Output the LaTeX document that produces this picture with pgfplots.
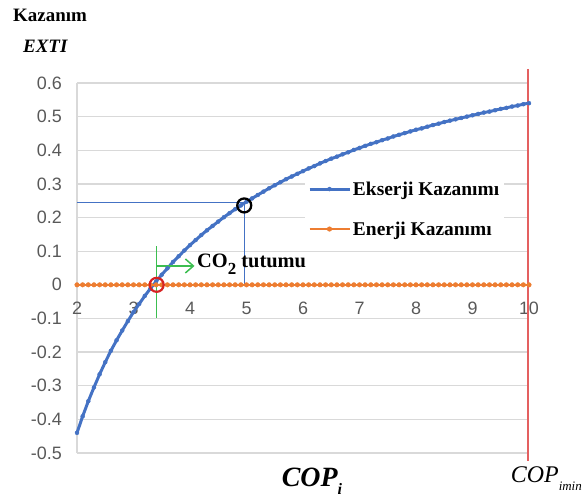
\documentclass[border=0pt]{standalone}
\usepackage{pgfplots}
\usepackage{pgfplotstable}
\pgfplotsset{compat=1.18}
\usepackage{fontspec}
\setmainfont{Liberation Serif}
\newfontfamily\arial{Liberation Sans}
\usetikzlibrary{arrows.meta}
\definecolor{exblue}{RGB}{68,114,196}
\definecolor{enorange}{RGB}{237,125,49}
\definecolor{gridgray}{RGB}{217,217,217}
\definecolor{tickgray}{RGB}{89,89,89}
\definecolor{copred}{RGB}{228,96,96}
\definecolor{circred}{RGB}{215,35,35}
\definecolor{cogreen}{RGB}{60,190,80}

\pgfplotstableread{
x y
2.0 -0.440
2.1 -0.391
2.2 -0.346
2.3 -0.305
2.4 -0.266
2.5 -0.230
2.6 -0.196
2.7 -0.165
2.8 -0.136
2.9 -0.108
3.0 -0.081
3.1 -0.057
3.2 -0.033
3.3 -0.011
3.4 0.010
3.5 0.030
3.6 0.049
3.7 0.068
3.8 0.085
3.9 0.102
4.0 0.118
4.1 0.133
4.2 0.148
4.3 0.162
4.4 0.175
4.5 0.188
4.6 0.201
4.7 0.213
4.8 0.225
4.9 0.236
5.0 0.247
5.1 0.257
5.2 0.267
5.3 0.277
5.4 0.287
5.5 0.296
5.6 0.305
5.7 0.314
5.8 0.322
5.9 0.330
6.0 0.338
6.1 0.346
6.2 0.353
6.3 0.361
6.4 0.368
6.5 0.375
6.6 0.381
6.7 0.388
6.8 0.394
6.9 0.401
7.0 0.407
7.1 0.413
7.2 0.419
7.3 0.424
7.4 0.430
7.5 0.435
7.6 0.441
7.7 0.446
7.8 0.451
7.9 0.456
8.0 0.461
8.1 0.465
8.2 0.470
8.3 0.475
8.4 0.479
8.5 0.484
8.6 0.488
8.7 0.492
8.8 0.496
8.9 0.500
9.0 0.504
9.1 0.508
9.2 0.512
9.3 0.515
9.4 0.519
9.5 0.523
9.6 0.526
9.7 0.530
9.8 0.533
9.9 0.537
10.0 0.540
}\ekserji

\begin{document}
\begin{tikzpicture}
\path[use as bounding box] (-77bp,-47bp) rectangle (507bp,453bp);
\begin{axis}[
  at={(0,0)}, anchor=south west,
  scale only axis, width=452bp, height=370bp,
  xmin=2, xmax=10, ymin=-0.5, ymax=0.6,
  clip=false,
  axis x line*=bottom, axis y line*=left,
  x axis line style={draw=none},
  y axis line style={-, draw=gridgray, line width=1.2bp},
  xtick={2,3,4,5,6,7,8,9,10},
  ytick={-0.5,-0.4,-0.3,-0.2,-0.1,0,0.1,0.2,0.3,0.4,0.5,0.6},
  major tick length=0pt,
  ymajorgrids, major grid style={gridgray, line width=1.2bp},
  tick label style={font=\arial\fontsize{18}{21}\selectfont, text=tickgray, /pgf/number format/assume math mode=true},
  yticklabel style={/pgf/number format/fixed, /pgf/number format/precision=1, inner sep=0pt, anchor=east, xshift=-15bp},
  xticklabel style={inner sep=0pt, anchor=north, yshift=151bp},
  legend style={at={(0.504,0.753)}, anchor=north west, draw=none, fill=white,
    inner xsep=3bp, inner ysep=5bp, row sep=21bp,
    font=\bfseries\fontsize{19.5}{22}\selectfont, cells={anchor=west},
    /tikz/every even column/.append style={column sep=10bp}},
  legend image code/.code={\draw[mark repeat=2, mark phase=2] plot coordinates {(0bp,0bp) (20bp,0bp) (40bp,0bp)};},
]
\addplot[exblue, line width=3bp, mark=*, mark size=2bp, mark options={fill=exblue, draw=exblue, line width=0.4bp}] table {\ekserji};
\addlegendentry{Ekserji Kazanımı}
\addplot[enorange, line width=2.6bp, mark=*, mark size=2.3bp, mark options={fill=enorange, draw=enorange, line width=0.4bp}] coordinates {
(2.0,0) (2.1,0) (2.2,0) (2.3,0) (2.4,0) (2.5,0) (2.6,0) (2.7,0) (2.8,0) (2.9,0)
(3.0,0) (3.1,0) (3.2,0) (3.3,0) (3.4,0) (3.5,0) (3.6,0) (3.7,0) (3.8,0) (3.9,0)
(4.0,0) (4.1,0) (4.2,0) (4.3,0) (4.4,0) (4.5,0) (4.6,0) (4.7,0) (4.8,0) (4.9,0)
(5.0,0) (5.1,0) (5.2,0) (5.3,0) (5.4,0) (5.5,0) (5.6,0) (5.7,0) (5.8,0) (5.9,0)
(6.0,0) (6.1,0) (6.2,0) (6.3,0) (6.4,0) (6.5,0) (6.6,0) (6.7,0) (6.8,0) (6.9,0)
(7.0,0) (7.1,0) (7.2,0) (7.3,0) (7.4,0) (7.5,0) (7.6,0) (7.7,0) (7.8,0) (7.9,0)
(8.0,0) (8.1,0) (8.2,0) (8.3,0) (8.4,0) (8.5,0) (8.6,0) (8.7,0) (8.8,0) (8.9,0)
(9.0,0) (9.1,0) (9.2,0) (9.3,0) (9.4,0) (9.5,0) (9.6,0) (9.7,0) (9.8,0) (9.9,0)
(10.0,0)};
\addlegendentry{Enerji Kazanımı}
% annotations
\addplot[forget plot, exblue, line width=1bp] coordinates {(2,0.244) (4.97,0.244) (4.97,0)};
\addplot[forget plot, only marks, mark=o, mark size=7bp, mark options={solid, draw=black, fill=none, line width=2.3bp}] coordinates {(4.96,0.236)};
\addplot[forget plot, only marks, mark=o, mark size=7bp, mark options={solid, draw=circred, fill=none, line width=2.2bp}] coordinates {(3.41,0)};
\addplot[forget plot, cogreen, line width=1.5bp] coordinates {(3.41,0.115) (3.41,-0.10)};
\addplot[forget plot, cogreen, line width=1.5bp, -{Straight Barb[length=8bp,width=14bp]}] coordinates {(3.41,0.056) (4.08,0.056)};
\addplot[forget plot, copred, line width=1.3bp] coordinates {(9.98,0.642) (9.98,-0.524)};
\end{axis}
\node[anchor=base west, inner sep=0pt, font=\bfseries\fontsize{19}{22}\selectfont] at (-64bp,431bp) {Kazanım};
\node[anchor=base west, inner sep=0pt, font=\bfseries\itshape\fontsize{19}{22}\selectfont] at (-54bp,400bp) {EXTI};
\node[anchor=base west, inner sep=0pt, font=\bfseries\fontsize{20.5}{24}\selectfont] at (120bp,185bp) {CO\raisebox{-0.3em}{\fontsize{17}{17}\selectfont 2} tutumu};
\node[anchor=base, inner sep=0pt, font=\bfseries\itshape\fontsize{28}{32}\selectfont] at (235bp,-33bp) {COP\raisebox{-0.3em}{\fontsize{16}{16}\selectfont i}};
\node[anchor=base east, inner sep=0pt, font=\itshape\fontsize{24}{28}\selectfont] at (505bp,-29bp) {COP\raisebox{-0.35em}{\fontsize{13}{13}\selectfont imin}};
\end{tikzpicture}
\end{document}
